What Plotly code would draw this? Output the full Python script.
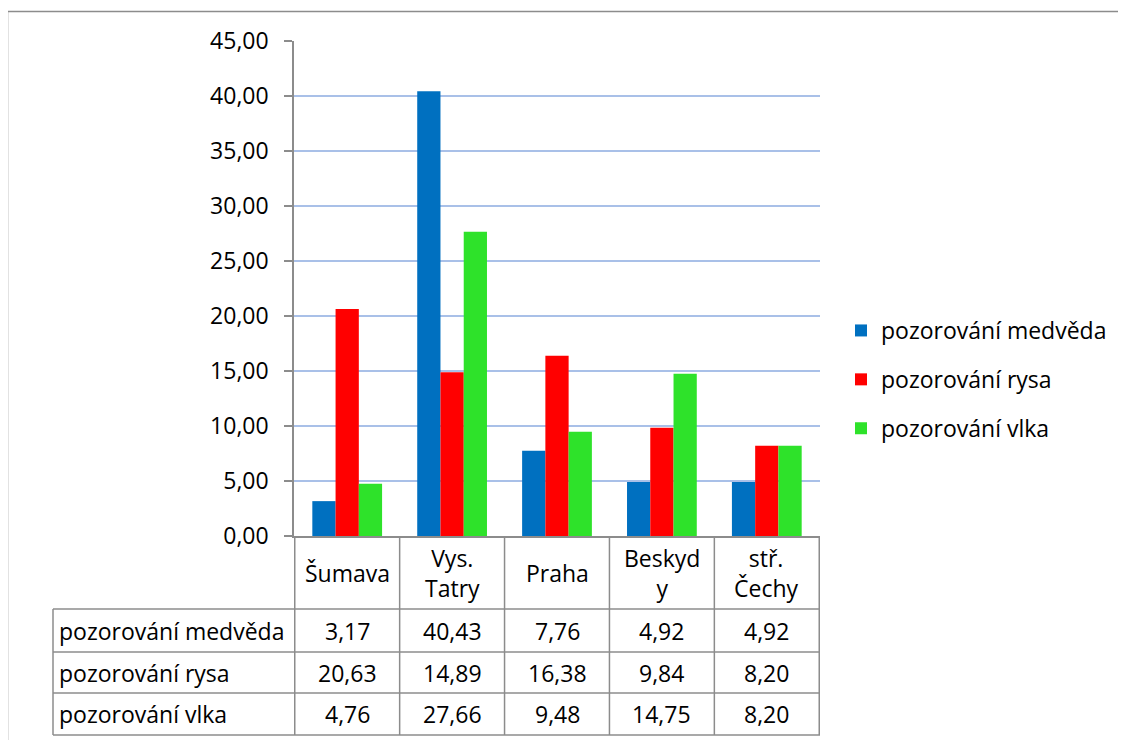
import plotly.graph_objects as go

regions = ["Šumava", "Vys.<br>Tatry", "Praha", "Beskyd<br>y", "stř.<br>Čechy"]
series_names = ["pozorování medvěda", "pozorování rysa", "pozorování vlka"]
medved = [3.17, 40.43, 7.76, 4.92, 4.92]
rys = [20.63, 14.89, 16.38, 9.84, 8.20]
vlk = [4.76, 27.66, 9.48, 14.75, 8.20]
colors = ["#0070C0", "#FF0000", "#2EE22A"]

FONT = "Open Sans"
FS = 23
GRID = "#A9C0E8"
BORDER = "#8C8C8C"

# page has an 8px body margin, so the figure is shrunk to fit the window
OFF = 8
W, H = 1126 - OFF, 740 - OFF
L, R, T, B = 294, 820, 41, 536  # plot area in window pixels


def px_x(px):
    return (px - L) / (R - L)


def px_y(py):
    return (B - py) / (B - T)


def fmt(v):
    return f"{v:.2f}".replace(".", ",")


fig = go.Figure()
for i, (name, vals) in enumerate(zip(series_names, [medved, rys, vlk])):
    fig.add_trace(go.Bar(
        x=regions, y=vals, name=name,
        marker=dict(color=colors[i], line=dict(width=0)),
        legendgroup=name,
    ))

# data table lines
row_lines = [609, 652, 693, 735]
shapes = []
for k in range(len(regions) + 1):
    shapes.append(dict(type="line", xref="x", yref="paper",
                       x0=k - 0.5, x1=k - 0.5, y0=0, y1=px_y(735),
                       line=dict(color=BORDER, width=1.5)))
shapes.append(dict(type="line", xref="paper", yref="paper",
                   x0=px_x(53), x1=px_x(53), y0=px_y(609), y1=px_y(735),
                   line=dict(color=BORDER, width=1.5)))
for yy in row_lines:
    shapes.append(dict(type="line", xref="paper", yref="paper",
                       x0=px_x(53), x1=1, y0=px_y(yy), y1=px_y(yy),
                       line=dict(color=BORDER, width=1.5)))
# outer chart border
shapes.append(dict(type="rect", xref="paper", yref="paper",
                   x0=px_x(7.5), x1=px_x(1140), y0=px_y(760), y1=px_y(11.5),
                   line=dict(color=BORDER, width=1.5), fillcolor="rgba(0,0,0,0)"))

annotations = []
for j, reg in enumerate(regions):
    annotations.append(dict(x=j, y=px_y(572.5), xref="x", yref="paper",
                            text=reg, showarrow=False, yanchor="middle",
                            font=dict(family=FONT, size=FS, color="black")))
row_centers = [630.5, 672.5, 714]
for name, vals, yc in zip(series_names, [medved, rys, vlk], row_centers):
    annotations.append(dict(x=px_x(57), y=px_y(yc), xref="paper", yref="paper",
                            text=name, showarrow=False, xanchor="left",
                            yanchor="middle",
                            font=dict(family=FONT, size=FS, color="black")))
    for j, v in enumerate(vals):
        annotations.append(dict(x=j, y=px_y(yc), xref="x", yref="paper",
                                text=fmt(v), showarrow=False, yanchor="middle",
                                font=dict(family=FONT, size=FS, color="black")))

fig.update_layout(
    width=W, height=H,
    margin=dict(l=L - OFF, r=W - (R - OFF), t=T - OFF, b=H - (B - OFF), pad=0),
    paper_bgcolor="white", plot_bgcolor="white",
    font=dict(family=FONT, size=FS, color="black"),
    separators=", ",
    barmode="group", bargap=0.335, bargroupgap=0,
    legend=dict(x=px_x(841), y=px_y(309), xanchor="left", yanchor="top",
                font=dict(family=FONT, size=FS, color="black"),
                traceorder="grouped", tracegroupgap=16,
                itemwidth=30, bgcolor="rgba(0,0,0,0)"),
    shapes=shapes, annotations=annotations,
)
fig.update_xaxes(showticklabels=False, showline=True, linecolor=BORDER,
                 linewidth=1.5, ticks="", showgrid=False)
fig.update_yaxes(range=[0, 45], dtick=5, tickformat=".2f",
                 showgrid=True, gridcolor=GRID, gridwidth=1.5,
                 zeroline=False, showline=True, linecolor=BORDER, linewidth=1.5,
                 ticks="outside", ticklen=8, tickcolor=BORDER, tickwidth=1.5,
                 ticklabelstandoff=11,
                 tickfont=dict(family=FONT, size=FS, color="black"))

fig.write_html("out.html")
